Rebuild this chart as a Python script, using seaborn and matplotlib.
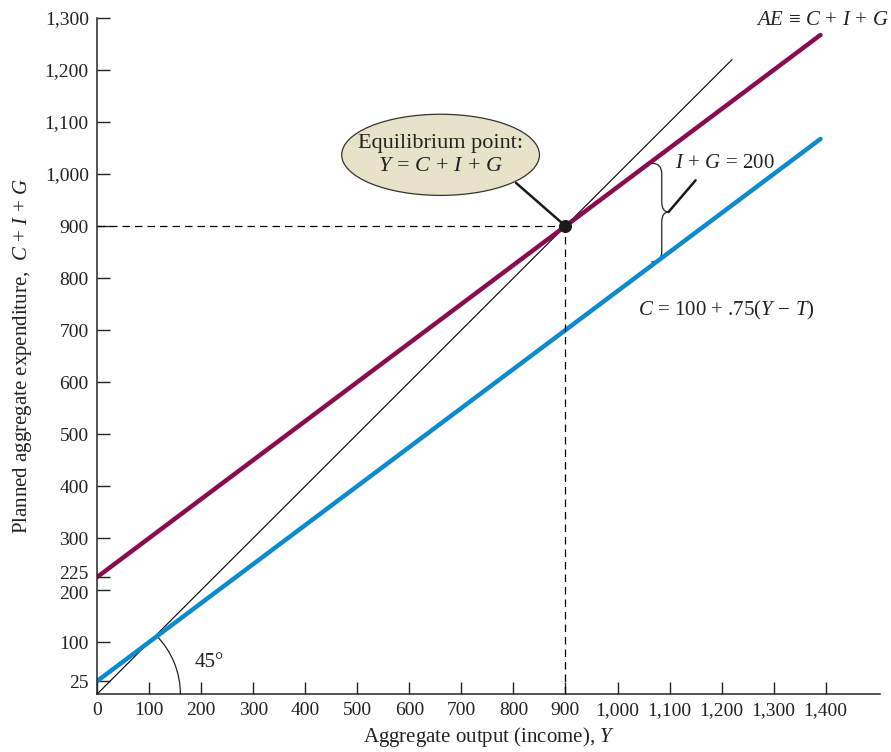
import matplotlib
matplotlib.use("Agg")
import matplotlib.pyplot as plt
from matplotlib.patches import Ellipse, Arc, PathPatch
from matplotlib.path import Path
from matplotlib.ticker import FuncFormatter
from matplotlib.transforms import ScaledTranslation
import seaborn as sns

# data
income = [0, 1390]
consumption = [25, 1067.5]          # C = 100 + .75(Y - T)
planned_ae = [225, 1267.5]          # AE = C + I + G
diag_x = [0, 1220]                  # 45 degree line
eq_y = 900
x_ticks = [0, 100, 200, 300, 400, 500, 600, 700, 800, 900, 1000, 1100, 1200, 1300, 1400]
y_ticks = [25, 100, 200, 225, 300, 400, 500, 600, 700, 800, 900, 1000, 1100, 1200, 1300]

purple = "#8A0B4E"
blue = "#0A8BD0"
ink = "#222222"

sns.set_style("ticks")
plt.rcParams["font.family"] = ["Liberation Serif", "DejaVu Serif"]
plt.rcParams["mathtext.fontset"] = "custom"
plt.rcParams["mathtext.rm"] = "Liberation Serif"
plt.rcParams["mathtext.it"] = "Liberation Serif:italic"

fig = plt.figure(figsize=(8.91, 7.52), dpi=100)
ax = fig.add_axes([0.109, 0.077, 0.879, 0.899])

sns.lineplot(x=diag_x, y=diag_x, ax=ax, color="black", linewidth=0.8)
sns.lineplot(x=income, y=consumption, ax=ax, color=blue, linewidth=3.2)
sns.lineplot(x=income, y=planned_ae, ax=ax, color=purple, linewidth=3.2)

# dashed guides to equilibrium
ax.plot([0, eq_y], [eq_y, eq_y], color="black", linestyle=(0, (6, 4)), linewidth=0.9)
ax.plot([eq_y, eq_y], [0, eq_y], color="black", linestyle=(0, (6, 4)), linewidth=0.9)
ax.scatter([eq_y], [eq_y], s=70, color="#1a1a1a", zorder=5)

# equilibrium callout
ax.plot([805, eq_y], [983, eq_y], color="#1a1a1a", linewidth=1.8)
ax.add_patch(Ellipse((660, 1037), 380, 156, facecolor="#E6E3C8", edgecolor="#333333",
                     linewidth=0.9, zorder=4))
ax.text(660, 1037, "Equilibrium point:\n" + r"$Y\,=\,C\,+\,I\,+\,G$", ha="center",
        va="center", fontsize=16, color=ink, zorder=6, linespacing=1.3)

# brace for I + G
xl, xr, xt = 1065, 1085, 1098
yt, yb, ym = 1021, 831, 927
verts = [(xl, yt), (xr, yt), (xr, yt - 20), (xr, ym + 20), (xr, ym), (xt, ym),
         (xt, ym), (xr, ym), (xr, ym - 20), (xr, yb + 20), (xr, yb), (xl, yb)]
codes = [Path.MOVETO, Path.CURVE3, Path.CURVE3, Path.LINETO, Path.CURVE3, Path.CURVE3,
         Path.MOVETO, Path.CURVE3, Path.CURVE3, Path.LINETO, Path.CURVE3, Path.CURVE3]
ax.add_patch(PathPatch(Path(verts, codes), facecolor="none", edgecolor=ink, linewidth=0.9))
ax.plot([xt, 1150], [ym, 988], color="#1a1a1a", linewidth=1.8)
ax.text(1110, 1021, r"$I\,+\,G$ = 200", fontsize=15, color=ink, va="center")

# 45 degree arc
ax.add_patch(Arc((0, 0), 320, 320, theta1=0, theta2=45, color=ink, linewidth=0.9))
ax.text(188, 60, "45°", fontsize=15, color=ink, va="center")

# line labels
ax.text(1521, 1296, r"$AE\,\equiv\,C\,+\,I\,+\,G$", fontsize=15, color=ink, ha="right",
        va="center", clip_on=False)
ax.text(1040, 738, r"$C$ = 100 + .75($Y\,-\,T$)", fontsize=15, color=ink, va="center")

ax.set_xlim(0, 1505)
ax.set_ylim(0, 1300)
ax.set_xticks(x_ticks)
ax.set_yticks(y_ticks)
fmt = FuncFormatter(lambda v, p: f"{int(v):,}")
ax.xaxis.set_major_formatter(fmt)
ax.yaxis.set_major_formatter(fmt)
ax.tick_params(direction="in", length=9, width=1, labelsize=14, colors=ink, pad=6)
sns.despine(ax=ax)
ax.spines["left"].set_linewidth(1.1)
ax.spines["bottom"].set_linewidth(1.1)

# nudge the crowded 225 / 200 labels apart a little
fig.canvas.draw()
for lab in ax.get_yticklabels():
    if lab.get_text() == "225":
        lab.set_transform(lab.get_transform() + ScaledTranslation(0, 3 / 72, fig.dpi_scale_trans))
    elif lab.get_text() == "200":
        lab.set_transform(lab.get_transform() + ScaledTranslation(0, -2 / 72, fig.dpi_scale_trans))

ax.set_xlabel(r"Aggregate output (income), $Y$", fontsize=15, color=ink, labelpad=4)
ax.set_ylabel(r"Planned aggregate expenditure,  $C\,+\,I\,+\,G$", fontsize=15, color=ink,
              labelpad=8)

fig.savefig("out.png", dpi=100)
